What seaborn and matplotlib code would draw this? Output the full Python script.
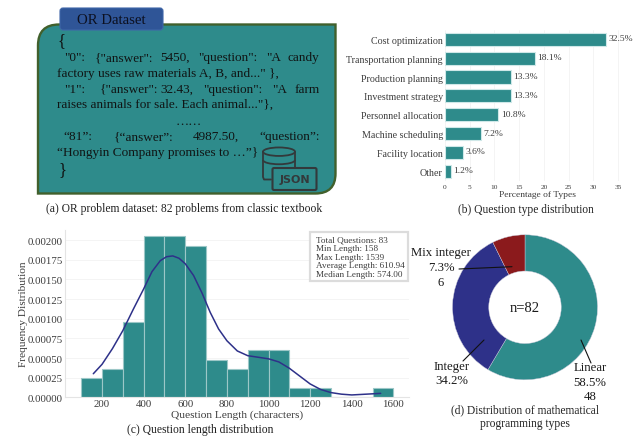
import matplotlib
matplotlib.use("Agg")

import matplotlib.pyplot as plt
from matplotlib.patches import FancyBboxPatch, PathPatch, Rectangle, Ellipse, Arc
from matplotlib.path import Path
import seaborn as sns

# datos del panel (b)
type_names = ["Cost optimization", "Transportation planning", "Production planning",
              "Investment strategy", "Personnel allocation", "Machine scheduling",
              "Facility location", "Other"]
type_pct = [32.5, 18.1, 13.3, 13.3, 10.8, 7.2, 3.6, 1.2]
type_ticks = [0, 5, 10, 15, 20, 25, 30, 35]

# datos del panel (c)
bin_edges = [100, 200, 300, 400, 500, 600, 700, 800, 900, 1000, 1100, 1200, 1300, 1400, 1500, 1600]
bin_centers = [150, 250, 350, 450, 550, 650, 750, 850, 950, 1050, 1150, 1250, 1350, 1450, 1550]
bin_density = [0.00024, 0.00036, 0.00096, 0.00205, 0.00205, 0.00193, 0.00048, 0.00036,
               0.00060, 0.00060, 0.00012, 0.00012, 0.0, 0.0, 0.00012]
kde_x = [158, 200, 250, 300, 350, 400, 440, 480, 510, 540, 570, 600, 640, 680, 720, 760, 800,
         850, 900, 950, 1000, 1050, 1100, 1150, 1200, 1250, 1300, 1350, 1400, 1470, 1539]
kde_y = [0.00030, 0.00042, 0.00062, 0.00085, 0.00112, 0.00138, 0.00160, 0.00174, 0.00179,
         0.00180, 0.00177, 0.00170, 0.00155, 0.00133, 0.00108, 0.00087, 0.00072, 0.00059,
         0.00053, 0.00051, 0.00049, 0.00045, 0.00037, 0.00027, 0.00017, 0.00010, 0.00006,
         0.00004, 0.00003, 0.00004, 0.00005]
stats_text = ["Total Questions: 83", "Min Length: 158", "Max Length: 1539",
              "Average Length: 610.94", "Median Length: 574.00"]

# datos del panel (d)
prog_names = ["Linear", "Integer", "Mix integer"]
prog_counts = [48, 28, 6]

W, H = 644, 439
TEAL = "#2E8B8B"
NAVY = "#2E3189"
DARKRED = "#8B1A1C"
INK = "#3c3c3c"

sns.set_theme(style="white")
plt.rcParams["font.family"] = ["Liberation Serif", "DejaVu Serif"]
plt.rcParams["axes.unicode_minus"] = False

fig = plt.figure(figsize=(W / 100, H / 100), dpi=100, facecolor="white")


def px_axes(left, top, right, bottom, **kw):
    return fig.add_axes([left / W, 1 - bottom / H, (right - left) / W, (bottom - top) / H], **kw)


# capa en pixeles para el panel (a), captions y anotaciones
back = px_axes(0, 0, W, H, zorder=0)
back.set_xlim(0, W)
back.set_ylim(H, 0)
back.axis("off")

# ---- panel (a)
L, T, R, B = 38, 25.5, 335.5, 194.5
r1, r2 = 21, 20
verts = [(L + r1, T), (R, T), (R, B - r2), (R, B), (R - r2, B), (L, B), (L, T + r1), (L, T), (L + r1, T), (L + r1, T)]
codes = [Path.MOVETO, Path.LINETO, Path.LINETO, Path.CURVE3, Path.CURVE3, Path.LINETO, Path.LINETO,
         Path.CURVE3, Path.CURVE3, Path.CLOSEPOLY]
back.add_patch(PathPatch(Path(verts, codes), facecolor=TEAL, edgecolor="#41602C", lw=1.7))
back.add_patch(FancyBboxPatch((60, 9), 103, 22, boxstyle="round,pad=0,rounding_size=3",
                              facecolor="#2F5597", edgecolor="#3F66A8", lw=0.8, zorder=3))
back.text(111, 20.5, "OR Dataset", fontsize=10.6, color="#0c1020", ha="center", va="center", zorder=4)

BODY = 9.5
body_words = [
    (58, 58, ['"0":', '{"answer":', "5450,", '"question":', '"A', "candy"],
     [64, 95, 160, 198, 266, 288]),
    (57, 74, ["factory uses raw materials A, B, and...\" },"]),
    (64, 89.7, ['"1":', '{"answer":', "32.43,", '"question":', '"A', "farm"],
     [64, 100, 160.7, 203, 271.7, 295]),
    (57, 105, ['raises animals for sale. Each animal..."},']),
    (176, 122, ["……"]),
    (63.5, 137, ["“81”:", "{“answer”:", "4987.50,", "“question”:"], [63.5, 114, 192.7, 259]),
    (57, 152.7, ["“Hongyin Company promises to …”}"]),
]
for row in body_words:
    xs = row[3] if len(row) > 3 else [row[0]]
    for xp, word in zip(xs, row[2]):
        back.text(xp, row[1], word, fontsize=BODY, color="#101414", ha="left", va="center")
back.text(58, 41, "{", fontsize=12, color="#101414", ha="left", va="center")
back.text(58, 170.5, "}", fontsize=12, color="#101414", ha="left", va="center")

# icono JSON
ICON = "#33393b"
back.add_patch(Ellipse((279, 152.7), 32, 8.5, facecolor="none", edgecolor=ICON, lw=1.3))
back.plot([263, 263, 264, 271], [152.7, 178, 180.5, 180.5], color=ICON, lw=1.3)
back.plot([295, 295], [152.7, 168.5], color=ICON, lw=1.3)
back.add_patch(Arc((279, 161), 32, 8.5, theta1=0, theta2=180, color=ICON, lw=1.3))
back.add_patch(FancyBboxPatch((272.5, 169), 44, 22, boxstyle="round,pad=0,rounding_size=1.5",
                              facecolor=TEAL, edgecolor=ICON, lw=1.5, zorder=3))
back.text(294.5, 180, "JSON", fontsize=8, fontweight="bold", family="DejaVu Sans", color=ICON,
          ha="center", va="center", zorder=4)

back.text(184, 209, "(a) OR problem dataset: 82 problems from classic textbook", fontsize=8.35,
          color="#222222", ha="center", va="center")

# ---- panel (b)
ax_b = px_axes(445, 31, 630, 181.6)
sns.barplot(x=type_pct, y=type_names, color=TEAL, saturation=1, width=0.7, ax=ax_b,
            edgecolor="#CFE8E8", linewidth=0.8, orient="h")
ax_b.set_xlim(0, 37.4)
ax_b.set_xticks(type_ticks)
ax_b.set_xticklabels(type_ticks, fontsize=5.3, color=INK)
ax_b.tick_params(axis="x", length=0, pad=2.5)
ax_b.tick_params(axis="y", length=0, pad=1.5, labelsize=7.2, labelcolor=INK)
ax_b.xaxis.grid(True, color="#f3f3f3", lw=0.6)
ax_b.set_axisbelow(True)
sns.despine(ax=ax_b, left=True, bottom=True)
for i, v in enumerate(type_pct):
    ax_b.text(v + 0.5, i - 0.05, f"{v}%", fontsize=6.8, color=INK, ha="left", va="center")
ax_b.set_xlabel("Percentage of Types", fontsize=6.8, color=INK, labelpad=0.5)
ax_b.set_ylabel("")
back.text(525.5, 210.5, "(b) Question type distribution", fontsize=8.3, color="#222222",
          ha="center", va="center")

# ---- panel (c)
ax_c = px_axes(65, 231, 409, 398.3)
sns.histplot(x=bin_centers, weights=bin_density, bins=bin_edges, color=TEAL, alpha=1,
             edgecolor="#9CC7C7", linewidth=0.8, ax=ax_c)
sns.lineplot(x=kde_x, y=kde_y, color=NAVY, lw=1.1, ax=ax_c)
ax_c.set_xlim(22, 1675)
ax_c.set_ylim(0, 0.00213)
ax_c.set_xticks(range(200, 1601, 200))
ax_c.set_yticks([i * 0.00025 for i in range(9)])
ax_c.set_yticklabels([f"{i * 0.00025:.5f}" for i in range(9)])
ax_c.tick_params(length=0, pad=1.5, labelsize=7.8, labelcolor=INK)
ax_c.yaxis.grid(True, color="#f3f3f3", lw=0.6)
ax_c.set_axisbelow(True)
sns.despine(ax=ax_c)
for side in ("left", "bottom"):
    ax_c.spines[side].set_color("#e4e4e4")
    ax_c.spines[side].set_linewidth(0.8)
ax_c.set_xlabel("Question Length (characters)", fontsize=8.2, color=INK, labelpad=0.5)
ax_c.set_ylabel("Frequency Distribution", fontsize=8.2, color=INK, labelpad=-0.5)
ax_c.add_patch(Rectangle((0.712, 0.695), 0.285, 0.293, transform=ax_c.transAxes, facecolor="white",
                         edgecolor="#dcdcdc", lw=1.6, zorder=2.5, clip_on=False))
ax_c.text(0.73, 0.968, "\n".join(stats_text), transform=ax_c.transAxes, fontsize=6.6,
          color=INK, linespacing=1.1, ha="left", va="top", zorder=3)
back.text(200.5, 430.5, "(c) Question length distribution", fontsize=8.4, color="#222222",
          ha="center", va="center")

# ---- panel (d)
ax_d = px_axes(525 - 72.5, 308.3 - 72.5, 525 + 72.5, 308.3 + 72.5)
ax_d.pie(prog_counts, colors=[TEAL, NAVY, DARKRED], startangle=90, counterclock=False, radius=1,
         wedgeprops={"width": 0.5, "edgecolor": "#c8c8d8", "linewidth": 0.3})
ax_d.set_xlim(-1, 1)
ax_d.set_ylim(-1, 1)
ax_d.text(0, 0, "n=82", fontsize=10.5, color="#1a1a1a", ha="center", va="center")

top = px_axes(0, 0, W, H, zorder=5)
top.set_xlim(0, W)
top.set_ylim(H, 0)
top.axis("off")
top.patch.set_alpha(0)

top.plot([459, 512], [270, 267.7], color="#111111", lw=0.8)
top.plot([484, 463], [341, 362], color="#111111", lw=0.8)
top.plot([581, 591], [341, 364], color="#111111", lw=0.8)
for x, y, s in [(441, 253.5, "Mix integer"), (441, 268, "7.3%"), (441, 283, "6"),
                (451.7, 366.7, "Integer"), (451.7, 381, "34.2%"),
                (590, 368, "Linear"), (590, 382.7, "58.5%"), (590, 397.3, "48")]:
    top.text(x, y, s, fontsize=9.2, color="#1a1a1a", ha="center", va="center")
top.text(525, 410.7, "(d) Distribution of mathematical", fontsize=8.3, color="#222222", ha="center", va="center")
top.text(525, 424.3, "programming types", fontsize=8.3, color="#222222", ha="center", va="center")

fig.savefig("out.png", dpi=100)
